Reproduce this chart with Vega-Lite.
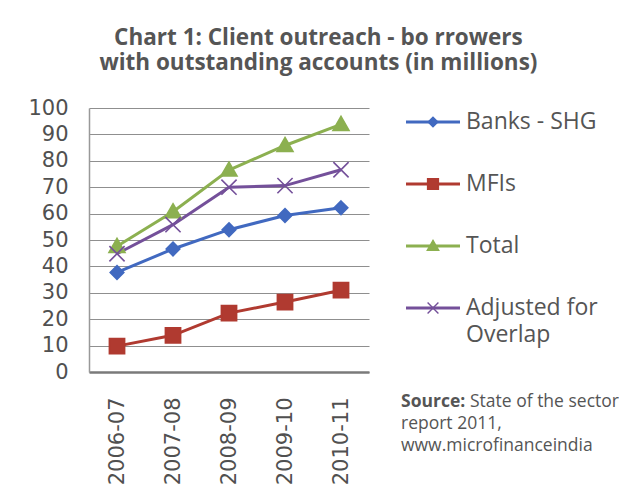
{
  "$schema": "https://vega.github.io/schema/vega-lite/v6.json",
  "background": "white",
  "padding": {"left": 27, "top": 26, "right": 0, "bottom": 0},
  "title": {
    "text": ["Chart 1: Client outreach - bo rrowers", "with outstanding  accounts (in millions)"],
    "font": "Open Sans",
    "fontSize": 22.5,
    "fontWeight": "bold",
    "color": "#555555",
    "lineHeight": 25,
    "anchor": "middle",
    "dx": -5,
    "offset": 23
  },
  "datasets": {
    "main": [
      {"year": "2006-07", "series": "Banks - SHG", "value": 37.7},
      {"year": "2007-08", "series": "Banks - SHG", "value": 46.6},
      {"year": "2008-09", "series": "Banks - SHG", "value": 53.9},
      {"year": "2009-10", "series": "Banks - SHG", "value": 59.3},
      {"year": "2010-11", "series": "Banks - SHG", "value": 62.2},
      {"year": "2006-07", "series": "MFIs", "value": 9.8},
      {"year": "2007-08", "series": "MFIs", "value": 13.9},
      {"year": "2008-09", "series": "MFIs", "value": 22.3},
      {"year": "2009-10", "series": "MFIs", "value": 26.5},
      {"year": "2010-11", "series": "MFIs", "value": 31},
      {"year": "2006-07", "series": "Total", "value": 47.6},
      {"year": "2007-08", "series": "Total", "value": 60.7},
      {"year": "2008-09", "series": "Total", "value": 76.5},
      {"year": "2009-10", "series": "Total", "value": 85.8},
      {"year": "2010-11", "series": "Total", "value": 93.8},
      {"year": "2006-07", "series": "Adjusted for Overlap", "value": 44.8},
      {"year": "2007-08", "series": "Adjusted for Overlap", "value": 55.8},
      {"year": "2008-09", "series": "Adjusted for Overlap", "value": 70},
      {"year": "2009-10", "series": "Adjusted for Overlap", "value": 70.6},
      {"year": "2010-11", "series": "Adjusted for Overlap", "value": 76.6}
    ],
    "legend": [
      {"series": "Banks - SHG", "label": "Banks - SHG", "label2": ""},
      {"series": "MFIs", "label": "MFIs", "label2": ""},
      {"series": "Total", "label": "Total", "label2": ""},
      {"series": "Adjusted for Overlap", "label": "Adjusted for", "label2": "Overlap"}
    ],
    "source": [
      {"line": 0, "text": "Source:", "part": "bold"},
      {"line": 0, "text": "State of the sector", "part": "after"},
      {"line": 1, "text": "report 2011,", "part": "normal"},
      {"line": 2, "text": "www.microfinanceindia", "part": "normal"}
    ]
  },
  "hconcat": [
    {
      "width": 280,
      "height": 264,
      "data": {"name": "main"},
      "encoding": {
        "x": {
          "field": "year",
          "type": "ordinal",
          "sort": null,
          "title": null,
          "axis": {
            "labelAngle": 270,
            "labelFont": "DejaVu Sans",
            "labelFontSize": 21,
            "labelColor": "#505050",
            "labelPadding": 25,
            "ticks": false,
            "tickSize": 0,
            "domain": true,
            "domainColor": "#7a7a7a",
            "domainWidth": 2.5,
            "grid": false
          }
        },
        "y": {
          "field": "value",
          "type": "quantitative",
          "title": null,
          "scale": {"domain": [0, 100], "nice": false},
          "axis": {
            "values": [0, 10, 20, 30, 40, 50, 60, 70, 80, 90, 100],
            "labelFont": "DejaVu Sans",
            "labelFontSize": 21,
            "labelColor": "#505050",
            "labelPadding": 21,
            "ticks": false,
            "tickSize": 0,
            "domainColor": "#999999",
            "domainWidth": 1.5,
            "grid": true,
            "gridColor": "#8f8f8f",
            "gridWidth": 1
          }
        }
      },
      "layer": [
        {
          "mark": {"type": "line", "strokeWidth": 3},
          "encoding": {
            "color": {
              "field": "series",
              "type": "nominal",
              "scale": {"domain": ["Banks - SHG", "MFIs", "Total", "Adjusted for Overlap"], "range": ["#4169c0", "#b03a30", "#8cb050", "#74509a"]},
              "legend": null
            }
          }
        },
        {
          "mark": {"type": "point", "filled": true, "opacity": 1, "strokeWidth": 1.6, "size": 256},
          "encoding": {
            "color": {
              "field": "series",
              "type": "nominal",
              "scale": {"domain": ["Banks - SHG", "MFIs", "Total", "Adjusted for Overlap"], "range": ["#4169c0", "#b03a30", "#8cb050", "#74509a"]},
              "legend": null
            },
            "stroke": {
              "field": "series",
              "type": "nominal",
              "scale": {"domain": ["Banks - SHG", "MFIs", "Total", "Adjusted for Overlap"], "range": ["#4169c0", "#b03a30", "#8cb050", "#74509a"]},
              "legend": null
            },
            "shape": {
              "field": "series",
              "type": "nominal",
              "scale": {"domain": ["Banks - SHG", "MFIs", "Total", "Adjusted for Overlap"], "range": ["M0,-0.85L0.85,0L0,0.85L-0.85,0Z", "M-0.95,-0.95H0.95V0.95H-0.95Z", "M0,-1L1,0.75L-1,0.75Z", "M-0.95,-0.95L0.95,0.95M-0.95,0.95L0.95,-0.95"]},
              "legend": null
            }
          }
        }
      ]
    },
    {
      "vconcat": [
        {
          "width": 54,
          "height": 214,
          "data": {"name": "legend"},
          "encoding": {
            "y": {
              "field": "series",
              "type": "nominal",
              "sort": null,
              "scale": {"type": "point", "padding": 0.226, "domain": ["Banks - SHG", "MFIs", "Total", "Adjusted for Overlap"]},
              "axis": null
            }
          },
          "layer": [
            {
              "mark": {"type": "rule", "strokeWidth": 3},
              "encoding": {
                "x": {"datum": 0, "type": "quantitative", "scale": {"domain": [0, 1]}, "axis": null},
                "x2": {"datum": 1},
                "color": {
                  "field": "series",
                  "type": "nominal",
                  "scale": {"domain": ["Banks - SHG", "MFIs", "Total", "Adjusted for Overlap"], "range": ["#4169c0", "#b03a30", "#8cb050", "#74509a"]},
                  "legend": null
                }
              }
            },
            {
              "mark": {"type": "point", "filled": true, "opacity": 1, "strokeWidth": 1.4, "size": 130},
              "encoding": {
                "x": {"datum": 0.5, "type": "quantitative"},
                "color": {
                  "field": "series",
                  "type": "nominal",
                  "scale": {"domain": ["Banks - SHG", "MFIs", "Total", "Adjusted for Overlap"], "range": ["#4169c0", "#b03a30", "#8cb050", "#74509a"]},
                  "legend": null
                },
                "stroke": {
                  "field": "series",
                  "type": "nominal",
                  "scale": {"domain": ["Banks - SHG", "MFIs", "Total", "Adjusted for Overlap"], "range": ["#4169c0", "#b03a30", "#8cb050", "#74509a"]},
                  "legend": null
                },
                "shape": {
                  "field": "series",
                  "type": "nominal",
                  "scale": {"domain": ["Banks - SHG", "MFIs", "Total", "Adjusted for Overlap"], "range": ["M0,-0.75L0.75,0L0,0.75L-0.75,0Z", "M-0.95,-0.95H0.95V0.95H-0.95Z", "M0,-1L1,0.75L-1,0.75Z", "M-0.95,-0.95L0.95,0.95M-0.95,0.95L0.95,-0.95"]},
                  "legend": null
                }
              }
            },
            {
              "mark": {"type": "text", "align": "left", "baseline": "middle", "dx": 6, "font": "Open Sans", "fontSize": 23, "color": "#555555"},
              "encoding": {
                "x": {"datum": 1, "type": "quantitative"},
                "text": {"field": "label"}
              }
            },
            {
              "mark": {"type": "text", "align": "left", "baseline": "middle", "dx": 6, "dy": 27, "font": "Open Sans", "fontSize": 23, "color": "#555555"},
              "encoding": {
                "x": {"datum": 1, "type": "quantitative"},
                "text": {"field": "label2"}
              }
            }
          ]
        },
        {
          "width": 54,
          "height": 44,
          "data": {"name": "source"},
          "encoding": {
            "y": {"field": "line", "type": "ordinal", "scale": {"type": "point", "padding": 0}, "axis": null},
            "x": {"datum": 0, "type": "quantitative", "scale": {"domain": [0, 1]}, "axis": null}
          },
          "layer": [
            {
              "transform": [{"filter": "datum.part === 'bold'"}],
              "mark": {"type": "text", "align": "left", "baseline": "middle", "dx": -5, "font": "Open Sans", "fontSize": 17.5, "fontWeight": "bold", "color": "#555555"},
              "encoding": {"text": {"field": "text"}}
            },
            {
              "transform": [{"filter": "datum.part === 'after'"}],
              "mark": {"type": "text", "align": "left", "baseline": "middle", "dx": 64, "font": "Open Sans", "fontSize": 17.5, "color": "#555555"},
              "encoding": {"text": {"field": "text"}}
            },
            {
              "transform": [{"filter": "datum.part === 'normal'"}],
              "mark": {"type": "text", "align": "left", "baseline": "middle", "dx": -5, "font": "Open Sans", "fontSize": 17.5, "color": "#555555"},
              "encoding": {"text": {"field": "text"}}
            }
          ]
        }
      ],
      "spacing": 46
    }
  ],
  "spacing": 32,
  "resolve": {"scale": {"x": "independent", "y": "independent"}},
  "config": {"view": {"stroke": null}}
}
